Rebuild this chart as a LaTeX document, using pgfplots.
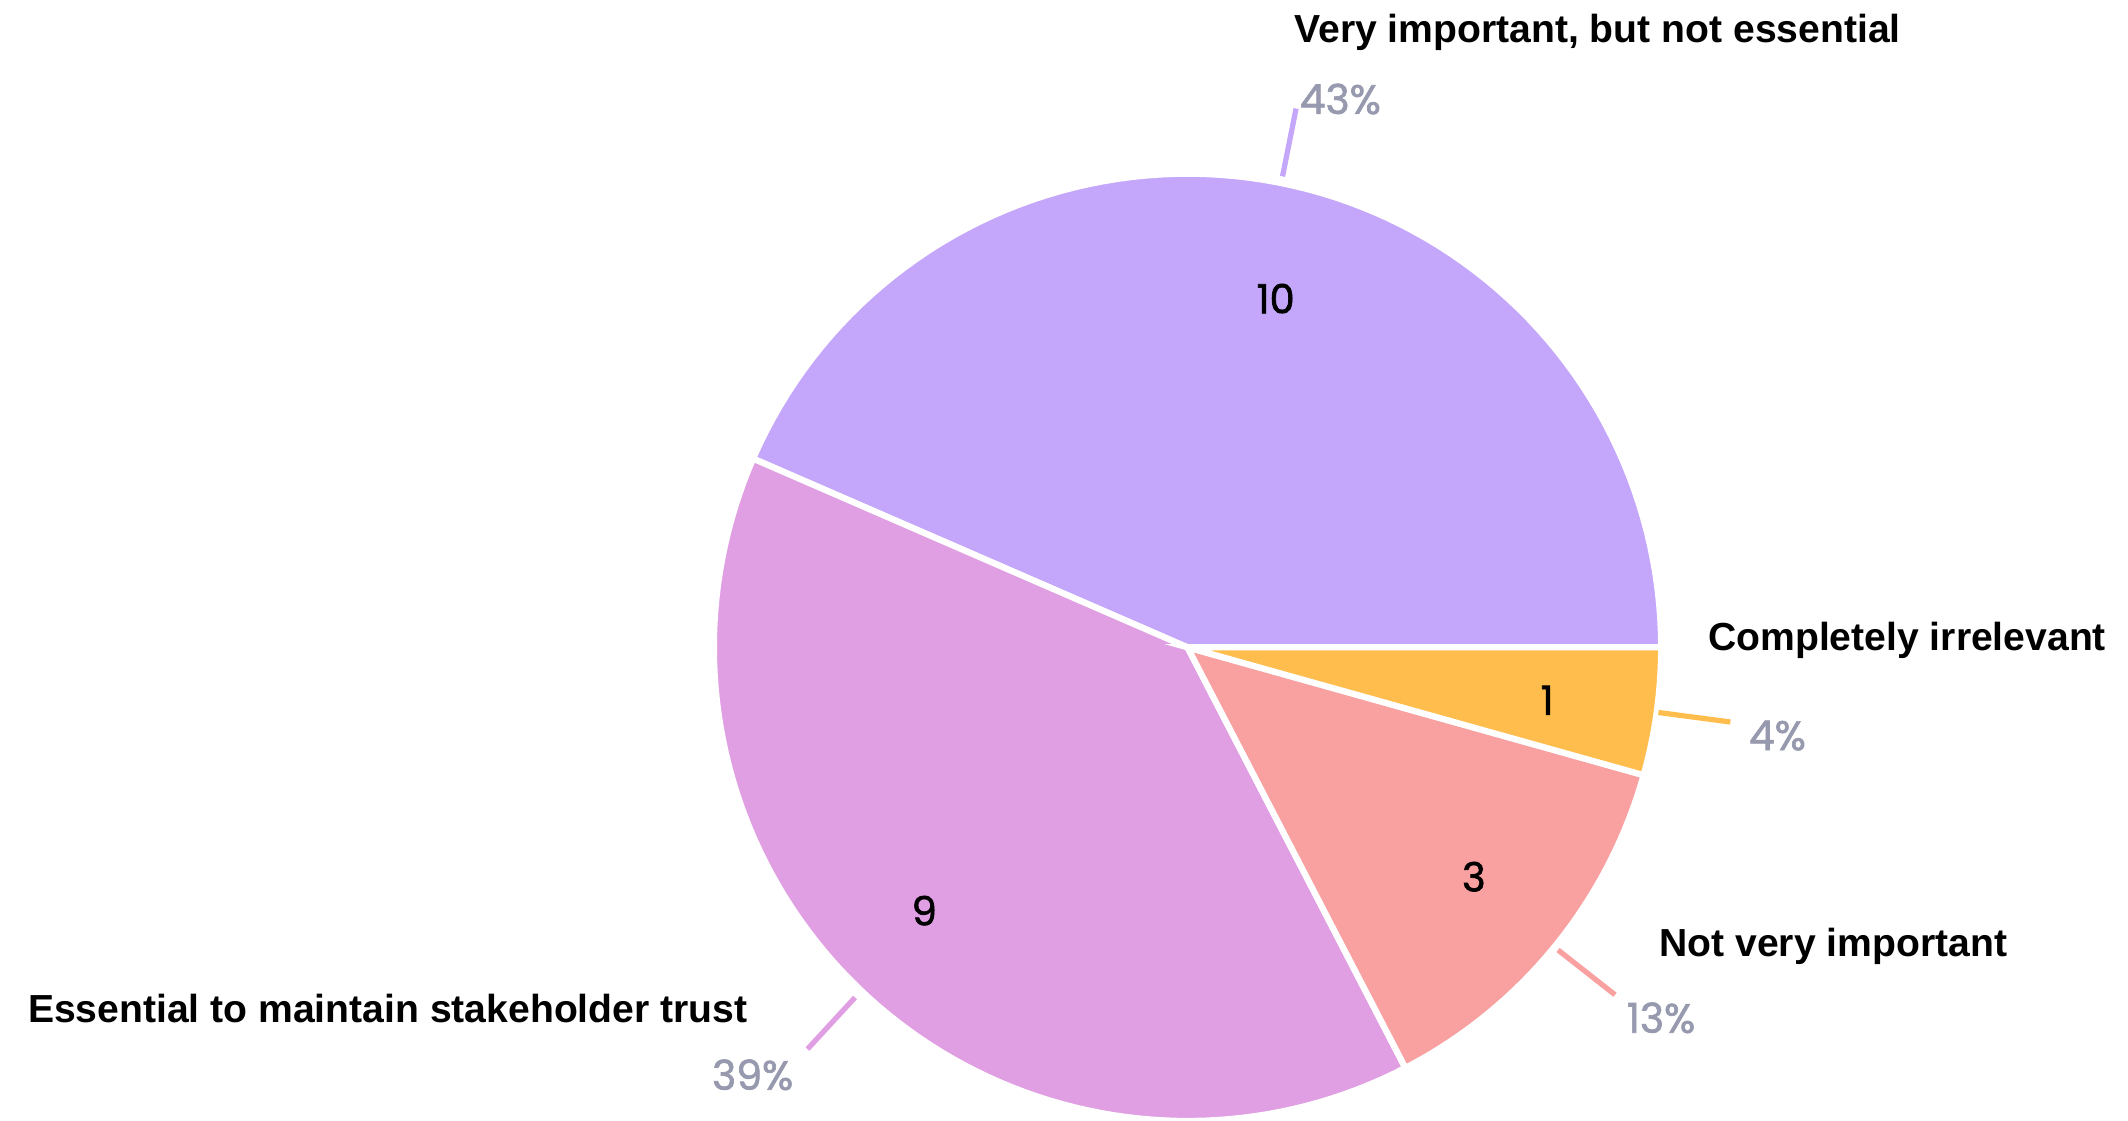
\documentclass[border=0pt]{standalone}
\usepackage{pgfplots}
\pgfplotsset{compat=1.18}
\usepackage{fontspec}
\setmainfont{Liberation Sans}
\newfontfamily\pop[FakeBold=1.6]{Poppins}
\definecolor{cPurple}{HTML}{C4A6FA}
\definecolor{cPink}{HTML}{E09FE2}
\definecolor{cSalmon}{HTML}{F9A0A0}
\definecolor{cOrange}{HTML}{FFBD4D}
\definecolor{pctgray}{HTML}{9799AE}
% counts
\def\vA{10}% Very important, but not essential
\def\vB{9}%  Essential to maintain stakeholder trust
\def\vC{3}%  Not very important
\def\vD{1}%  Completely irrelevant
\def\vT{23}
\def\cx{875}
\def\cy{349}
\def\R{349}
\newcommand\lab[1]{\fontsize{8.2}{10}\selectfont\bfseries #1}
\newcommand\pct[1]{\textcolor{pctgray}{\pop\fontsize{8.6}{10}\selectfont #1}}
\newcommand\num[1]{{\pop\fontsize{8.4}{10}\selectfont #1}}
\begin{document}
\begin{tikzpicture}
\begin{axis}[scale only axis, width=15.68cm, height=8.26cm,
  xmin=0, xmax=1568, ymin=0, ymax=826, axis lines=none, clip=false]
\coordinate (BL) at (rel axis cs:0,0);
\coordinate (TR) at (rel axis cs:1,1);
\addplot[fill=cPurple, draw=white, line width=1.3pt, samples=90,
  domain={0}:{\vA*360/\vT}]
  ({\cx+\R*cos(x)},{\cy+\R*sin(x)}) -- (\cx,\cy) -- cycle;
\addplot[fill=cPink, draw=white, line width=1.3pt, samples=90,
  domain={\vA*360/\vT}:{(\vA+\vB)*360/\vT}]
  ({\cx+\R*cos(x)},{\cy+\R*sin(x)}) -- (\cx,\cy) -- cycle;
\addplot[fill=cSalmon, draw=white, line width=1.3pt, samples=40,
  domain={(\vA+\vB)*360/\vT}:{(\vA+\vB+\vC)*360/\vT}]
  ({\cx+\R*cos(x)},{\cy+\R*sin(x)}) -- (\cx,\cy) -- cycle;
\addplot[fill=cOrange, draw=white, line width=1.3pt, samples=20,
  domain={(\vA+\vB+\vC)*360/\vT}:{360}]
  ({\cx+\R*cos(x)},{\cy+\R*sin(x)}) -- (\cx,\cy) -- cycle;
% leader lines
\addplot[cPurple, line width=1.1pt] coordinates {(945,696) (955,746)};
\addplot[cOrange, line width=1.1pt] coordinates {(1222,301) (1275,294)};
\addplot[cSalmon, line width=1.1pt] coordinates {(1148,126) (1190,93)};
\addplot[cPink, line width=1.1pt] coordinates {(630,91) (595,53)};
% category labels
\node[anchor=west, inner sep=0pt] at (953,802) {\lab{Very important, but not essential}};
\node[anchor=west, inner sep=0pt] at (1258,354) {\lab{Completely irrelevant}};
\node[anchor=west, inner sep=0pt] at (1222,129) {\lab{Not very important}};
\node[anchor=west, inner sep=0pt] at (20,83) {\lab{Essential to maintain stakeholder trust}};
% percent labels
\node[anchor=west, inner sep=0pt] at (957,753) {\pct{43\%}};
\node[anchor=west, inner sep=0pt] at (1288,284) {\pct{4\%}};
\node[anchor=west, inner sep=0pt] at (1198,76) {\pct{13\%}};
\node[anchor=west, inner sep=0pt] at (524,34) {\pct{39\%}};
% counts
\node[inner sep=0pt] at (940,606) {\num{\vA}};
\node[inner sep=0pt] at (681,155) {\num{\vB}};
\node[inner sep=0pt] at (1086,180) {\num{\vC}};
\node[inner sep=0pt] at (1140,310) {\num{\vD}};
\end{axis}
\pgfresetboundingbox
\path[use as bounding box] (BL) rectangle (TR);
\end{tikzpicture}
\end{document}
